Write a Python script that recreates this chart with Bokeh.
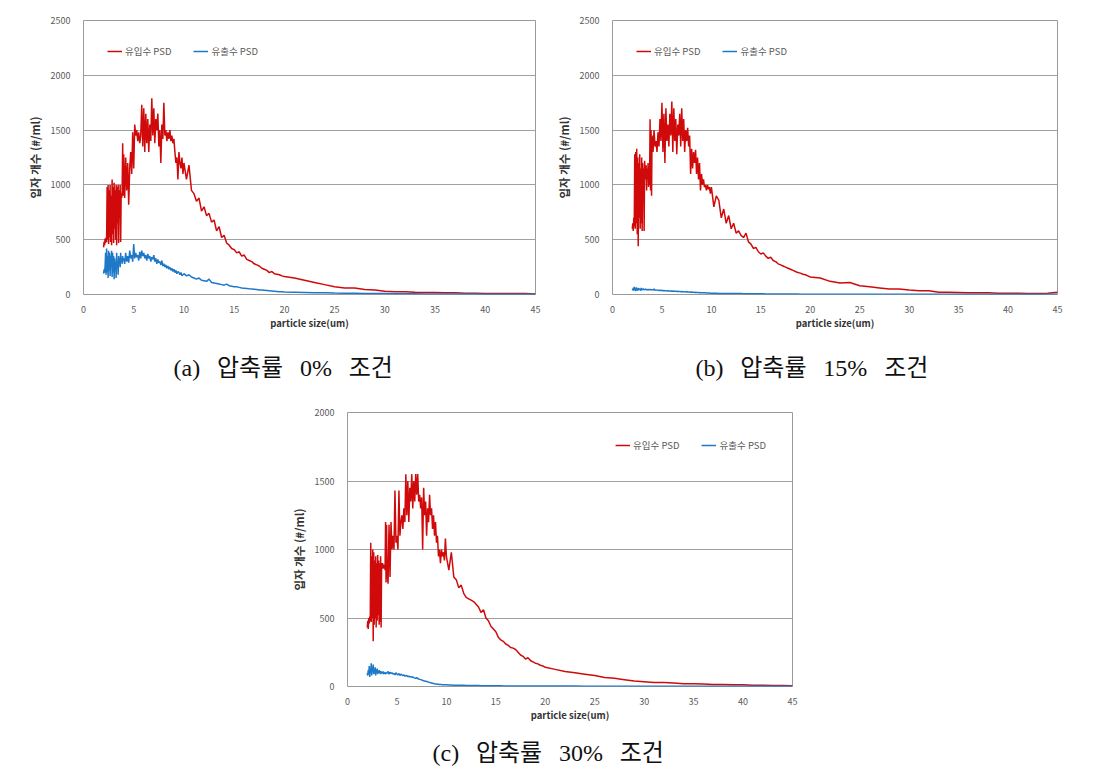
import numpy as np
from bokeh.plotting import figure
from bokeh.layouts import column, row, Spacer
from bokeh.models import Legend, LegendItem, Title, FixedTicker, Range1d
from bokeh.embed import file_html
from bokeh.resources import INLINE

FONT = "Noto Sans CJK KR"
CAP_FONT = "'Liberation Serif', 'Noto Sans CJK KR'"
RED = "#D00A0A"
BLUE = "#1E78C8"

SERIES_NAMES = ["유입수 PSD", "유출수 PSD"]
X_LABEL = "particle size(um)"
Y_LABEL = "입자 개수 (#/ml)"
X_TICKS = [0, 5, 10, 15, 20, 25, 30, 35, 40, 45]
SP = "\u2002\u2009"
CAPTIONS = ["(a)" + SP + "압축률" + SP + "0%" + SP + "조건",
            "(b)" + SP + "압축률" + SP + "15%" + SP + "조건",
            "(c)" + SP + "압축률" + SP + "30%" + SP + "조건"]

# particle-size sampling segments (um)
X_SEGMENTS = [(2.0, 3.95), (4.0, 9.9), (10.0, 19.75), (20.0, 45.0)]

# ---------- (a) 0% ----------
A_IN = [
    [430, 480, 450, 510, 470, 520, 480, 980, 500, 1000, 460, 950, 520, 1000, 480, 900, 450, 1050, 550, 980,
     470, 1020, 600, 950, 500, 1000, 450, 980, 650, 1000, 470, 950, 700, 1000, 480, 920, 880, 950, 1380, 900],
    [1280, 880, 1250, 950, 1200, 820, 1150, 1300, 1100, 1480, 1150, 1550, 1450, 1500, 1400, 1480, 1380, 1450, 1730, 1350,
     1700, 1300, 1650, 1380, 1600, 1300, 1550, 1400, 1790, 1450, 1700, 1380, 1600, 1500, 1650, 1350, 1500, 1200, 1550, 1420,
     1750, 1450, 1500, 1400, 1480, 1420, 1500, 1400, 1450, 1380, 1420, 1300, 1200, 1250, 1050, 1300, 1200, 1150, 1250, 1100],
    [1200, 1050, 1180, 950, 920, 850, 880, 760, 800, 720, 740, 660, 680, 580, 620, 520, 540, 470, 450, 420,
     410, 380, 390, 350, 360, 320, 310, 300, 280, 270, 260, 240, 230, 220, 200, 210, 190, 185, 180, 170],
    [165, 150, 130, 110, 90, 70, 60, 60, 45, 40, 30, 25, 25, 20, 18, 18, 15, 15, 12, 12, 10, 10, 10, 8, 8, 5],
]
A_OUT = [
    [190, 230, 200, 260, 380, 180, 420, 200, 350, 150, 400, 220, 380, 170, 350, 250, 400, 160, 380, 200,
     350, 140, 330, 220, 300, 150, 380, 260, 300, 180, 350, 290, 330, 250, 380, 300, 330, 280, 350, 310],
    [330, 280, 380, 300, 350, 290, 400, 330, 360, 300, 460, 330, 380, 340, 360, 310, 390, 330, 400, 350,
     380, 330, 360, 310, 370, 330, 350, 300, 340, 320, 360, 300, 330, 280, 320, 290, 300, 270, 310, 260,
     280, 250, 270, 240, 260, 230, 250, 220, 240, 210, 230, 200, 220, 190, 210, 200, 180, 200, 170, 180],
    [190, 170, 180, 160, 150, 140, 150, 130, 125, 120, 140, 110, 105, 100, 95, 90, 85, 95, 80, 75,
     70, 70, 65, 60, 58, 55, 52, 50, 48, 45, 42, 40, 38, 36, 34, 32, 30, 28, 26, 25],
    [22, 20, 18, 16, 15, 13, 12, 11, 10, 9, 8, 7, 6, 6, 5, 5, 5, 4, 4, 4, 3, 3, 3, 3, 3, 3],
]

# ---------- (b) 15% ----------
B_IN = [
    [600, 650, 580, 700, 620, 1280, 600, 1300, 650, 1330, 550, 1250, 440, 1200, 700, 1280, 600, 1150, 650, 1250,
     580, 1200, 1000, 1150, 580, 1220, 1050, 1100, 1180, 950, 1150, 1050, 1200, 980, 1100, 1000, 1600, 950, 1500, 900],
    [1450, 1300, 1500, 1350, 1400, 1300, 1480, 1350, 1600, 1400, 1750, 1300, 1650, 1200, 1700, 1400, 1550, 1350, 1650, 1450,
     1760, 1300, 1700, 1400, 1600, 1280, 1550, 1450, 1650, 1350, 1700, 1400, 1600, 1300, 1500, 1400, 1520, 1350, 1450, 1100,
     1330, 1150, 1300, 1200, 1320, 1100, 1250, 1050, 1200, 950, 1100, 1000, 1050, 980, 1000, 950, 1000, 960, 980, 920],
    [980, 800, 900, 860, 700, 780, 650, 720, 600, 650, 560, 580, 540, 520, 560, 480, 460, 420, 430, 390,
     370, 380, 350, 330, 340, 310, 300, 280, 270, 260, 250, 240, 230, 220, 210, 200, 195, 185, 180, 170],
    [160, 150, 120, 105, 110, 80, 70, 60, 50, 50, 40, 35, 35, 20, 20, 18, 15, 15, 15, 12, 12, 12, 10, 10, 12, 20],
]
B_OUT = [
    [50, 40, 60, 35, 70, 40, 55, 30, 65, 45, 50, 35, 60, 40, 55, 45, 50, 35, 60, 40,
     50, 45, 55, 40, 50, 42, 48, 45, 50, 40, 45, 42, 48, 40, 46, 42, 50, 40, 45, 42],
    [45, 40, 50, 38, 42, 40, 38, 36, 40, 35, 38, 35, 36, 34, 35, 33, 34, 32, 33, 30,
     32, 30, 31, 29, 30, 28, 29, 27, 28, 26, 27, 25, 26, 24, 25, 23, 24, 22, 23, 21,
     22, 20, 21, 19, 20, 18, 19, 17, 18, 16, 17, 15, 16, 15, 15, 14, 14, 13, 13, 12],
    [12, 11, 11, 10, 10, 10, 9, 9, 9, 8, 8, 8, 8, 7, 7, 7, 7, 6, 6, 6,
     6, 6, 5, 5, 5, 5, 5, 5, 4, 4, 4, 4, 4, 4, 4, 4, 3, 3, 3, 3],
    [3, 3, 2, 3, 2, 2, 3, 2, 2, 2, 2, 2, 2, 2, 2, 2, 2, 2, 2, 2, 2, 2, 2, 2, 2, 2],
]

# ---------- (c) 30% ----------
C_IN = [
    [430, 480, 420, 500, 460, 510, 480, 1050, 470, 950, 500, 1000, 330, 980, 450, 920, 500, 950, 430, 900,
     480, 960, 520, 920, 450, 900, 470, 950, 430, 900, 880, 900, 860, 890, 870, 880, 850, 1200, 760, 1180],
    [850, 750, 1180, 800, 1200, 1000, 1100, 1000, 1430, 1050, 1100, 1000, 1430, 1100, 1200, 1250, 1150, 1300, 1200, 1550,
     1250, 1500, 1200, 1450, 1350, 1550, 1300, 1500, 1350, 1550, 1400, 1550, 1350, 1400, 1300, 1380, 1000, 1450, 1250, 1350,
     1100, 1300, 1200, 1400, 1250, 1300, 1150, 1250, 1100, 1200, 1050, 1100, 950, 1000, 900, 1000, 950, 980, 920, 1080],
    [950, 850, 980, 800, 780, 720, 740, 680, 650, 640, 630, 620, 600, 580, 540, 560, 500, 480, 440, 420,
     400, 360, 340, 330, 310, 300, 285, 280, 270, 250, 230, 220, 200, 210, 190, 180, 170, 165, 155, 150],
    [140, 125, 110, 100, 90, 80, 65, 60, 50, 40, 35, 30, 30, 25, 20, 20, 18, 15, 15, 12, 12, 10, 10, 8, 8, 5],
]
C_OUT = [
    [100, 80, 120, 90, 150, 70, 130, 100, 170, 80, 140, 110, 160, 90, 120, 100, 140, 80, 120, 110,
     130, 90, 110, 100, 120, 95, 115, 90, 110, 100, 105, 95, 110, 90, 100, 95, 105, 90, 100, 95],
    [100, 110, 90, 105, 95, 100, 90, 95, 85, 100, 90, 85, 95, 80, 90, 85, 80, 85, 75, 80,
     78, 72, 75, 70, 72, 68, 70, 65, 62, 60, 65, 58, 55, 52, 50, 48, 45, 42, 40, 38,
     36, 34, 32, 30, 28, 26, 24, 22, 20, 19, 18, 17, 16, 15, 15, 14, 13, 13, 12, 12],
    [12, 11, 11, 10, 10, 9, 9, 9, 8, 8, 8, 7, 7, 7, 6, 6, 6, 6, 5, 5,
     5, 5, 5, 4, 4, 4, 4, 4, 4, 4, 3, 3, 3, 3, 3, 3, 3, 3, 3, 3],
    [3, 3, 3, 3, 2, 2, 2, 2, 2, 2, 2, 2, 2, 2, 2, 2, 2, 2, 2, 2, 2, 2, 2, 2, 2, 2],
]


def flatten(segs):
    xs, ys = [], []
    for (x0, x1), vals in zip(X_SEGMENTS, segs):
        xs.extend(np.linspace(x0, x1, len(vals)).tolist())
        ys.extend(vals)
    return xs, ys


def make_panel(inflow, outflow, ymax, ystep, caption, legend_loc, legend_margin,
               width, height, bl, bt, bb, cap_offset, cap_standoff):
    p = figure(width=width, height=height, output_backend="svg", toolbar_location=None,
               x_range=Range1d(0, 45), y_range=Range1d(0, ymax),
               min_border_left=bl, min_border_right=10, min_border_top=bt, min_border_bottom=bb)
    p.background_fill_color = "white"
    p.border_fill_color = "white"
    p.outline_line_color = "#9A9A9A"
    p.outline_line_width = 1

    xi, yi = flatten(inflow)
    xo, yo = flatten(outflow)
    r_in = p.line(xi, yi, line_color=RED, line_width=1.5)
    r_out = p.line(xo, yo, line_color=BLUE, line_width=1.5)

    p.xaxis.ticker = FixedTicker(ticks=X_TICKS)
    p.yaxis.ticker = FixedTicker(ticks=list(range(0, ymax + 1, ystep)))
    for ax in (p.xaxis, p.yaxis):
        ax.axis_line_color = None
        ax.major_tick_line_color = None
        ax.minor_tick_line_color = None
        ax.major_label_text_font = FONT
        ax.major_label_text_font_size = "9px"
        ax.major_label_text_color = "#595959"
        ax.axis_label_text_font = FONT
        ax.axis_label_text_font_style = "bold"
        ax.axis_label_text_color = "#333333"
    p.xaxis.axis_label = X_LABEL
    p.yaxis.axis_label = Y_LABEL
    p.xaxis.axis_label_text_font_size = "9.5px"
    p.yaxis.axis_label_text_font_size = "11.5px"
    p.xaxis.major_label_standoff = 5
    p.yaxis.major_label_standoff = 7
    p.xaxis.axis_label_standoff = 0
    p.yaxis.axis_label_standoff = 5

    p.xgrid.grid_line_color = None
    p.ygrid.grid_line_color = "#A0A0A0"
    p.ygrid.grid_line_width = 1

    legend = Legend(items=[LegendItem(label=SERIES_NAMES[0], renderers=[r_in]),
                           LegendItem(label=SERIES_NAMES[1], renderers=[r_out])],
                    location=legend_loc, orientation="horizontal")
    legend.margin = legend_margin
    legend.padding = 2
    legend.spacing = 22
    legend.glyph_width = 15
    legend.glyph_height = 10
    legend.label_standoff = 3
    legend.label_text_font = FONT
    legend.label_text_font_size = "9.5px"
    legend.label_text_color = "#595959"
    legend.border_line_color = None
    legend.background_fill_alpha = 0
    p.add_layout(legend)

    t = Title(text=caption, align="left", offset=cap_offset, standoff=cap_standoff,
              text_font=CAP_FONT, text_font_size="24px", text_font_style="normal",
              text_line_height=1.0, text_color="#111111")
    p.add_layout(t, "below")
    return p


pa = make_panel(A_IN, A_OUT, 2500, 500, CAPTIONS[0], "top_left", 24,
                width=545, height=402, bl=83, bt=20, bb=108, cap_offset=90, cap_standoff=41)
pb = make_panel(B_IN, B_OUT, 2500, 500, CAPTIONS[1], "top_left", 24,
                width=522, height=402, bl=67, bt=20, bb=108, cap_offset=83, cap_standoff=41)
pc = make_panel(C_IN, C_OUT, 2000, 500, CAPTIONS[2], "top_right", 26,
                width=537, height=377, bl=82, bt=10, bb=93, cap_offset=85, cap_standoff=26)

layout = column(row(pa, pb), row(Spacer(width=265, height=377), pc))

open("out.html", "w").write(file_html(layout, INLINE))
